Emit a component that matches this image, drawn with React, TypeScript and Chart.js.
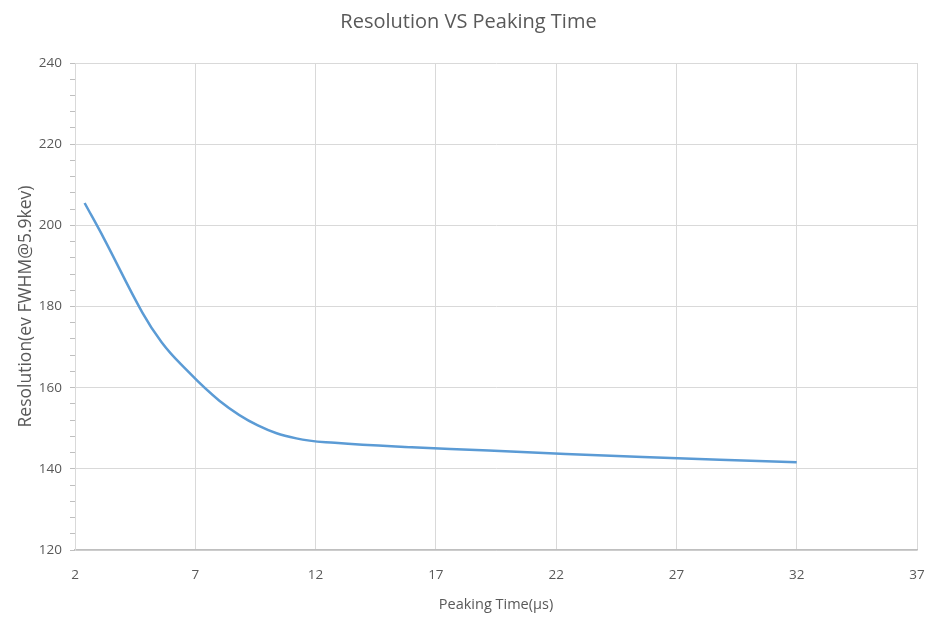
import React, { useEffect, useRef } from "react";
import { Chart, registerables } from "chart.js";

Chart.register(...registerables);

// peaking time (µs) and resolution (eV FWHM @ 5.9 keV)
const peakingTimes = [2.4, 3.2, 4.8, 5.6, 6.4, 8, 9.6, 11.2, 12.8, 16, 19.2, 25.6, 32];
const resolution = [205.5, 196.8, 178.5, 171.2, 165.8, 156.8, 150.7, 147.5, 146.4, 145.3, 144.5, 142.9, 141.6];
const xTickValues = [2, 7, 12, 17, 22, 27, 32, 37];

const FONT = "'Open Sans', 'Noto Sans', sans-serif";
const TEXT = "#595959";

const App: React.FC = () => {
    const canvasRef = useRef<HTMLCanvasElement>(null!);

    useEffect(() => {
        document.body.style.margin = "0";
        if (!canvasRef.current) return;

        const chart = new Chart(canvasRef.current, {
            type: "line",
            data: {
                datasets: [
                    {
                        label: "Resolution",
                        data: peakingTimes.map((t, i) => ({ x: t, y: resolution[i] })),
                        borderColor: "#5b9bd5",
                        borderWidth: 2.5,
                        pointRadius: 0,
                        tension: 0.4,
                        fill: false,
                    },
                ],
            },
            options: {
                animation: false,
                responsive: false,
                layout: { padding: { left: 6, right: 0, top: 0, bottom: 0 } },
                plugins: {
                    legend: { display: false },
                    tooltip: { enabled: false },
                    title: {
                        display: true,
                        text: "Resolution VS Peaking Time",
                        color: TEXT,
                        font: { family: FONT, size: 20, weight: "normal" },
                        padding: { top: 10, bottom: 29 },
                    },
                },
                scales: {
                    x: {
                        type: "linear",
                        min: 2,
                        max: 37,
                        afterBuildTicks: (scale) => {
                            scale.ticks = xTickValues.map((v) => ({ value: v }));
                        },
                        afterFit: (scale) => {
                            scale.height = 78;
                            scale.paddingRight = 14;
                        },
                        grid: { color: "#d9d9d9", drawTicks: false },
                        border: { color: "#bfbfbf", width: 1.5 },
                        ticks: {
                            color: TEXT,
                            padding: 17,
                            maxRotation: 0,
                            font: { family: FONT, size: 13.5 },
                        },
                        title: {
                            display: true,
                            text: "Peaking Time(μs)",
                            color: TEXT,
                            font: { family: FONT, size: 14.5 },
                            padding: { top: 0, bottom: 14 },
                        },
                    },
                    y: {
                        min: 120,
                        max: 240,
                        afterFit: (scale) => {
                            scale.width = 69;
                        },
                        grid: {
                            color: (ctx) => (ctx.tick && ctx.tick.value % 20 === 0 ? "#d9d9d9" : "rgba(0,0,0,0)"),
                            tickColor: "#bfbfbf",
                            tickLength: 5,
                        },
                        border: { color: "#d9d9d9" },
                        ticks: {
                            stepSize: 4,
                            autoSkip: false,
                            color: TEXT,
                            padding: 8,
                            font: { family: FONT, size: 13.5 },
                            callback: (value) => (Number(value) % 20 === 0 ? String(value) : ""),
                        },
                        title: {
                            display: true,
                            text: "Resolution(ev FWHM@5.9kev)",
                            color: TEXT,
                            font: { family: FONT, size: 17.5 },
                            padding: { top: 10, bottom: 0 },
                        },
                    },
                },
            },
        });

        return () => {
            chart.destroy();
        };
    }, []);

    return (
        <div style={{ position: "relative", width: 931, height: 628, background: "#fff" }}>
            <canvas ref={canvasRef} width={931} height={628} style={{ width: 931, height: 628 }}></canvas>
        </div>
    );
};

export default App;
